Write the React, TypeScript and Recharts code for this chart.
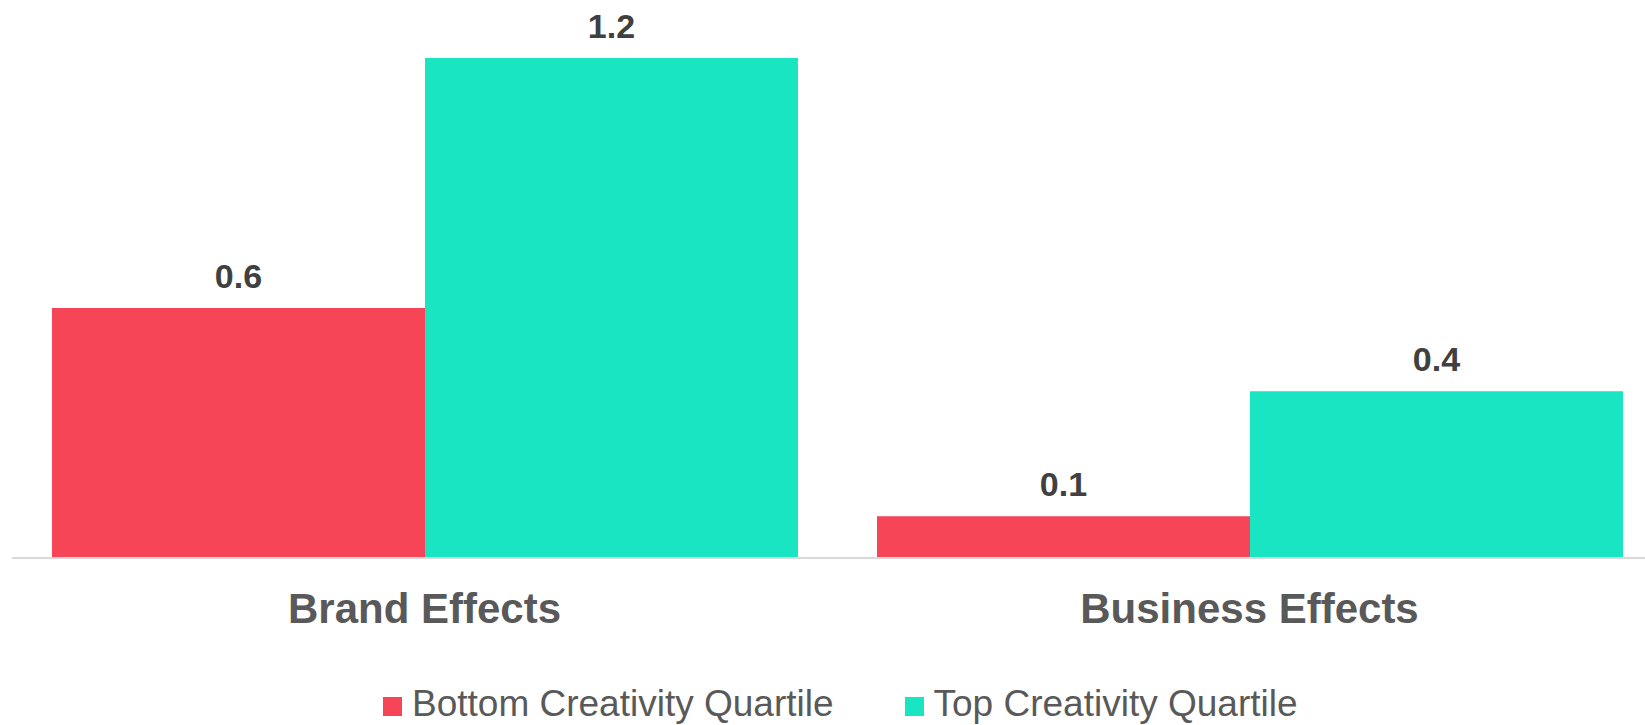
import { Bar, BarChart, LabelList, Legend, XAxis, YAxis } from "recharts";

const categories = ["Brand Effects", "Business Effects"];
const bottomQuartile = [0.6, 0.1];
const topQuartile = [1.2, 0.4];
const seriesNames = ["Bottom Creativity Quartile", "Top Creativity Quartile"];

const RED = "#F64556";
const TEAL = "#1AE5C2";
const FONT = '"Liberation Sans", Arial, sans-serif';

const data = categories.map((name, i) => ({
  name,
  bottom: bottomQuartile[i],
  top: topQuartile[i],
}));

function LegendContent() {
  const items = [
    { label: seriesNames[0], color: RED },
    { label: seriesNames[1], color: TEAL },
  ];
  return (
    <div
      style={{
        display: "flex",
        alignItems: "center",
        height: 42,
        paddingLeft: 383,
        fontFamily: FONT,
        fontSize: 37,
        color: "#595959",
        whiteSpace: "nowrap",
      }}
    >
      {items.map((it, i) => (
        <div
          key={it.label}
          style={{ display: "flex", alignItems: "center", marginRight: i === 0 ? 71 : 0 }}
        >
          <span
            style={{
              display: "inline-block",
              width: 19,
              height: 19,
              background: it.color,
              marginRight: 10,
              marginTop: 5,
            }}
          />
          <span style={{ lineHeight: "42px" }}>{it.label}</span>
        </div>
      ))}
    </div>
  );
}

export default function App() {
  return (
    <div
      style={{
        position: "absolute",
        left: 0,
        top: 0,
        width: 1645,
        height: 725,
        overflow: "hidden",
        background: "#fff",
        fontFamily: FONT,
      }}
    >
      <BarChart
        width={1680}
        height={725}
        data={data}
        margin={{ top: 58, right: 18, left: 12, bottom: 0 }}
        barCategoryGap={40}
        barGap={0}
      >
        <XAxis
          dataKey="name"
          interval={0}
          tickLine={false}
          tickSize={0}
          tickMargin={35}
          height={125}
          axisLine={{ stroke: "#D9D9D9", strokeWidth: 2 }}
          tick={{ fill: "#595959", fontSize: 42, fontWeight: "bold", fontFamily: FONT }}
        />
        <YAxis hide domain={[0, 1.2]} />
        <Legend
          verticalAlign="bottom"
          height={42}
          content={<LegendContent />}
          wrapperStyle={{ left: 0, width: 1645 }}
        />
        <Bar dataKey="bottom" name={seriesNames[0]} fill={RED} isAnimationActive={false}>
          <LabelList
            dataKey="bottom"
            position="top"
            offset={20}
            fill="#404040"
            fontSize={34}
            fontWeight="bold"
            fontFamily={FONT}
          />
        </Bar>
        <Bar dataKey="top" name={seriesNames[1]} fill={TEAL} isAnimationActive={false}>
          <LabelList
            dataKey="top"
            position="top"
            offset={20}
            fill="#404040"
            fontSize={34}
            fontWeight="bold"
            fontFamily={FONT}
          />
        </Bar>
      </BarChart>
    </div>
  );
}
